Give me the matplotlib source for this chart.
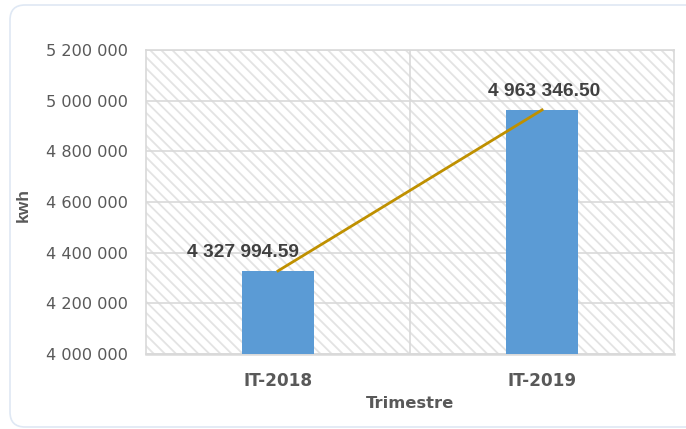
import matplotlib
matplotlib.use("Agg")
import matplotlib.pyplot as plt
from matplotlib.patches import FancyBboxPatch, Rectangle
from matplotlib.ticker import FuncFormatter

plt.rcParams['font.family'] = ['Liberation Sans', 'DejaVu Sans']
plt.rcParams['hatch.color'] = '#e3e3e3'
plt.rcParams['hatch.linewidth'] = 1.3

# data
categories = ["IT-2018", "IT-2019"]
values = [4327994.59, 4963346.50]
value_labels = ["4 327 994.59", "4 963 346.50"]
label_offsets = [(-25, 10), (1.5, 10)]

fig = plt.figure(figsize=(6.86, 4.29), dpi=100)
# rounded chart border (runs off the right edge as in the reference)
border = FancyBboxPatch((0.10, 0.02), 6.9, 4.22, boxstyle="round,pad=0,rounding_size=0.15",
                        transform=fig.dpi_scale_trans, facecolor='white', edgecolor='#dfe8f4',
                        lw=1.2, zorder=-5)
fig.patches.append(border)

ax = fig.add_axes([146/686, 1-354/429, 528/686, 304/429])
ax.set_zorder(2)
ax.set_facecolor('none')
x = list(range(len(categories)))

# hatched background
bg = Rectangle((0, 0), 1, 1, transform=ax.transAxes, facecolor='white',
               edgecolor='#e3e3e3', hatch='\\\\\\', lw=0, zorder=0)
ax.add_patch(bg)

ax.set_xlim(-0.5, 1.5)
ax.set_ylim(4000000, 5200000)
ax.set_yticks(range(4000000, 5200001, 200000))
ax.yaxis.set_major_formatter(FuncFormatter(lambda v, p: f"{int(v):,}".replace(",", " ")))
for yv in range(4000000, 5200001, 200000):
    ax.axhline(yv, color='#d9d9d9', lw=1.2, zorder=1)
ax.axvline(0.5, color='#d9d9d9', lw=1.2, zorder=1)

ax.bar(x, values, width=0.27, color='#5b9bd5', zorder=3)
ax.plot(x, values, color='#bf9000', lw=2, zorder=4)

for xi, v, lab, off in zip(x, values, value_labels, label_offsets):
    ax.annotate(lab, (xi, v), xytext=off, textcoords='offset points',
                ha='center', va='baseline', fontsize=13.8, fontweight='bold',
                color='#404040', zorder=5)

ax.set_xticks(x)
ax.set_xticklabels(categories, fontsize=12.2, fontweight='bold', color='#595959',
                   family='DejaVu Sans')
for t in ax.get_yticklabels():
    t.set_family('DejaVu Sans')
ax.tick_params(axis='x', length=0, pad=13)
ax.tick_params(axis='y', length=0, labelsize=11.6, labelcolor='#595959', pad=13)
for s in ax.spines.values():
    s.set_color('#d9d9d9')
    s.set_linewidth(1.2)
ax.spines['bottom'].set_linewidth(1.8)

ax.set_xlabel("Trimestre", fontsize=11.8, fontweight='bold', color='#595959',
              family='DejaVu Sans', labelpad=4)
ax.set_ylabel("kwh", fontsize=12.5, fontweight='bold', color='#595959')
ax.yaxis.set_label_coords(-0.218, 0.49)

fig.savefig("out.png", dpi=100)
